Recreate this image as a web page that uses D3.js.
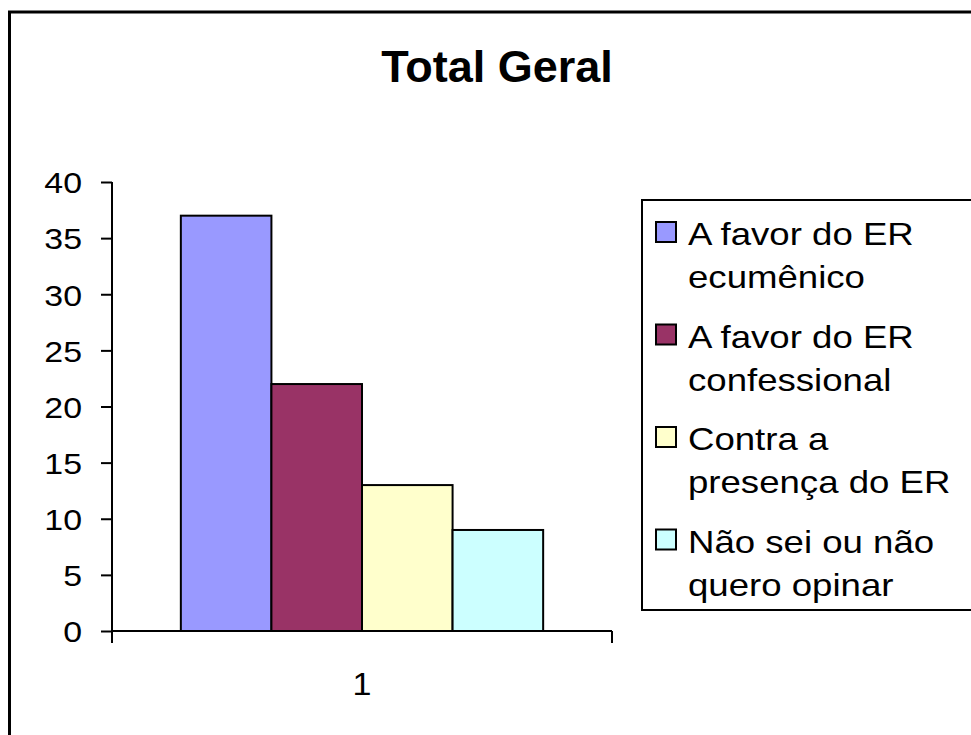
<!DOCTYPE html>
<html>
<head>
<meta charset="utf-8">
<script src="https://cdn.jsdelivr.net/npm/d3@7"></script>
<style>
  html, body { margin: 0; padding: 0; background: #fff; }
  svg { display: block; }
  text { font-family: "Liberation Sans", Arial, sans-serif; fill: #000; }
</style>
</head>
<body>
<svg id="chart" width="971" height="735"></svg>
<script>
// Survey totals, one bar per answer
const categories = ["1"];
const seriesNames = [
  ["A favor do ER", "ecumênico"],
  ["A favor do ER", "confessional"],
  ["Contra a", "presença do ER"],
  ["Não sei ou não", "quero opinar"]
];
const seriesValues = [37, 22, 13, 9];
const seriesColors = ["#9999FF", "#993366", "#FFFFCC", "#CCFFFF"];
const yTicks = [0, 5, 10, 15, 20, 25, 30, 35, 40];
const title = "Total Geral";

const svg = d3.select("#chart");

// chart frame
svg.append("rect")
  .attr("x", 9.5).attr("y", 12)
  .attr("width", 1000).attr("height", 800)
  .attr("fill", "#fff").attr("stroke", "#000").attr("stroke-width", 3);

svg.append("text")
  .attr("x", 497).attr("y", 82)
  .attr("text-anchor", "middle")
  .style("font-size", "45px").style("font-weight", "bold")
  .text(title);

const plot = { left: 112, right: 612, top: 182, bottom: 631 };

const y = d3.scaleLinear().domain([0, 40]).range([plot.bottom, plot.top]);
const x0 = d3.scaleBand().domain(categories).range([plot.left, plot.right])
  .paddingInner(0).paddingOuter(0.19);
const x1 = d3.scaleBand().domain(d3.range(seriesValues.length)).range([0, x0.bandwidth()]);

// bars
const g = svg.append("g");
categories.forEach(cat => {
  g.selectAll("rect.bar")
    .data(seriesValues)
    .join("rect")
    .attr("class", "bar")
    .attr("x", (d, i) => x0(cat) + x1(i))
    .attr("y", d => y(d))
    .attr("width", x1.bandwidth())
    .attr("height", d => y(0) - y(d))
    .attr("fill", (d, i) => seriesColors[i])
    .attr("stroke", "#000").attr("stroke-width", 2);
});

// y axis
const yAxis = d3.axisLeft(y).tickValues(yTicks).tickSize(11).tickPadding(18)
  .tickFormat(d3.format("d"));
const ya = svg.append("g").attr("transform", `translate(${plot.left},0)`).call(yAxis);
ya.select(".domain").attr("stroke", "#000").attr("stroke-width", 2)
  .attr("d", `M0,${plot.top}V${plot.bottom}`);
ya.selectAll(".tick line").attr("stroke", "#000").attr("stroke-width", 2);
ya.selectAll(".tick text")
  .style("font-size", "30px").style("font-family", "Liberation Sans, Arial, sans-serif")
  .attr("x", 0).attr("dy", "0.36em")
  .attr("transform", "translate(-30,0) scale(1.13,1)");

// x axis with boundary ticks
const xa = svg.append("g").attr("transform", `translate(0,${plot.bottom})`);
xa.append("line").attr("x1", plot.left).attr("x2", plot.right)
  .attr("stroke", "#000").attr("stroke-width", 2);
[plot.left, plot.right].forEach(px => {
  xa.append("line").attr("x1", px).attr("x2", px).attr("y1", 0).attr("y2", 12)
    .attr("stroke", "#000").attr("stroke-width", 2);
});
categories.forEach(cat => {
  xa.append("text")
    .attr("transform", `translate(${x0(cat) + x0.bandwidth() / 2},64) scale(1.1,1)`)
    .attr("text-anchor", "middle")
    .style("font-size", "31px")
    .text(cat);
});

// legend
const lg = svg.append("g");
lg.append("rect")
  .attr("x", 642).attr("y", 200).attr("width", 400).attr("height", 410)
  .attr("fill", "#fff").attr("stroke", "#000").attr("stroke-width", 2);
seriesNames.forEach((lines, i) => {
  const base = 245 + i * 102.5;
  lg.append("rect")
    .attr("x", 656).attr("y", base - 23).attr("width", 20).attr("height", 20)
    .attr("fill", seriesColors[i]).attr("stroke", "#000").attr("stroke-width", 2);
  lines.forEach((t, j) => {
    lg.append("text")
      .attr("transform", `translate(688,${base + j * 43}) scale(1.2,1)`)
      .style("font-size", "30.5px")
      .text(t);
  });
});
</script>
</body>
</html>
